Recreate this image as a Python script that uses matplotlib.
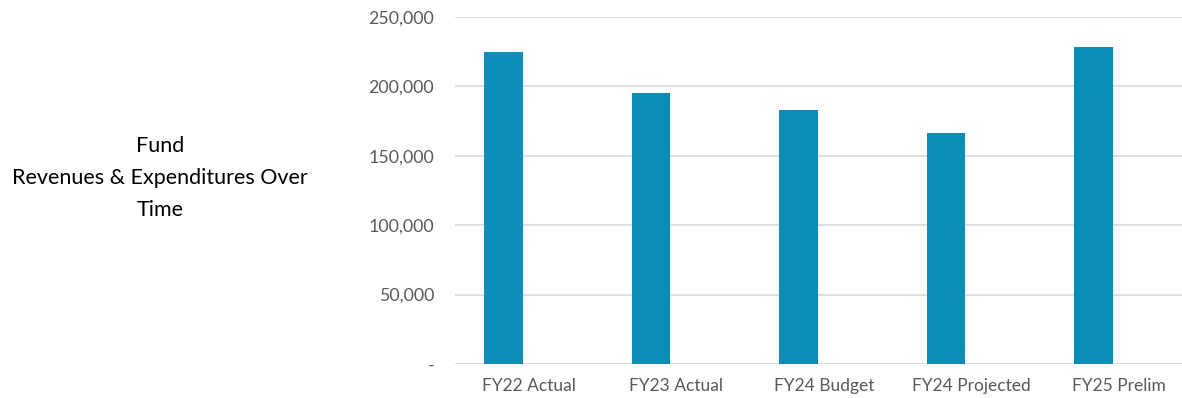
import matplotlib
matplotlib.use("Agg")
import matplotlib.pyplot as plt
import numpy as np
from matplotlib.ticker import FuncFormatter

categories = ["FY22 Actual", "FY23 Actual", "FY24 Budget", "FY24 Projected", "FY25 Prelim"]
values = [225000, 195000, 183000, 166500, 228500]
yticks = [0, 50000, 100000, 150000, 200000, 250000]
title = "Fund\nRevenues & Expenditures Over\nTime"

BAR = "#0B8DB8"
GRID = "#D9D9D9"
TXT = "#595959"

plt.rcParams["font.family"] = ["Lato", "DejaVu Sans"]

fig = plt.figure(figsize=(11.82, 3.98), dpi=100)
W, H = 1182, 398
left, right, bottom, top = 455, 1192.5, 364, 17
ax = fig.add_axes([left / W, (H - bottom) / H, (right - left) / W, (bottom - top) / H])

x = np.arange(len(categories))
ax.bar(x - 0.171, values, width=0.264, color=BAR, zorder=3)
ax.set_xlim(-0.5, len(categories) - 0.5)
ax.set_ylim(0, 250000)
ax.set_yticks(yticks)
ax.yaxis.set_major_formatter(FuncFormatter(lambda v, p: "-" if v == 0 else f"{v:,.0f}"))
ax.set_xticks(x, categories)
ax.grid(axis="y", color=GRID, linewidth=1.2, zorder=0)
for s in ax.spines.values():
    s.set_visible(False)
ax.tick_params(axis="y", length=0, pad=15, labelsize=12.8, labelcolor=TXT)
ax.tick_params(axis="x", length=0, pad=10, labelsize=12.5, labelcolor=TXT)

fig.text(160 / W, (H - 178) / H, title, ha="center", va="center", fontsize=15.5,
         color="black", linespacing=1.72)

fig.savefig("out.png", dpi=100)
